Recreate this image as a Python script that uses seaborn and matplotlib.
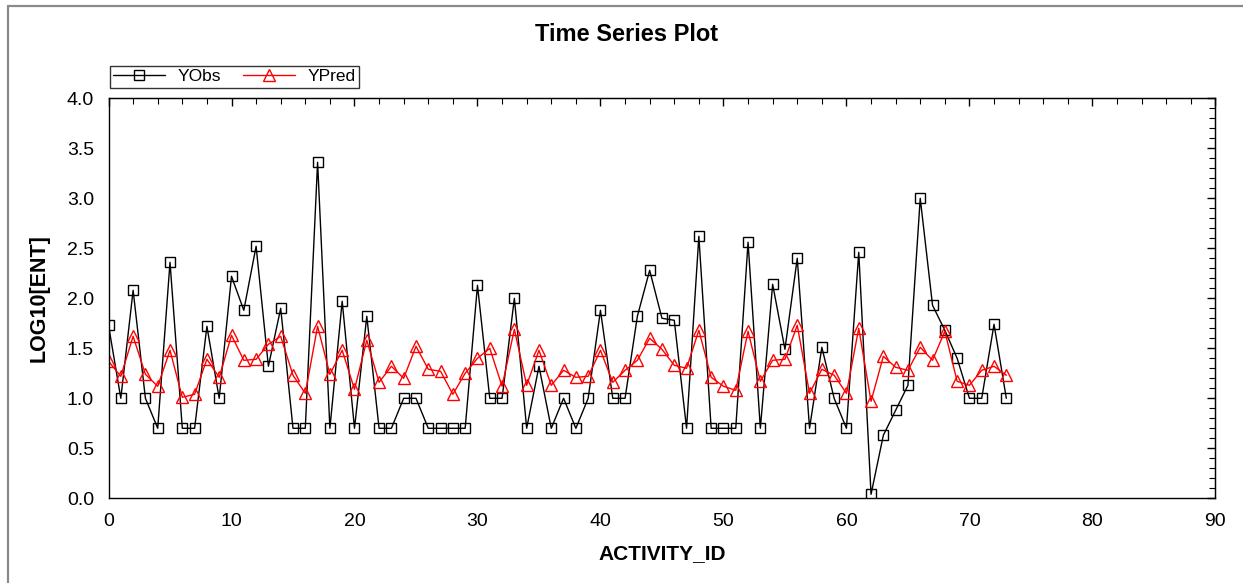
import matplotlib
matplotlib.use("Agg")
import matplotlib.pyplot as plt
from matplotlib.lines import Line2D
from matplotlib.ticker import MultipleLocator, FormatStrFormatter, NullFormatter
import seaborn as sns
import pandas as pd

# ============ Data ============
activity_id = list(range(74))

y_obs = [1.73, 1.00, 2.08, 1.00, 0.70, 2.36, 0.70, 0.70, 1.72, 1.00,
         2.22, 1.88, 2.52, 1.32, 1.90, 0.70, 0.70, 3.36, 0.70, 1.97,
         0.70, 1.82, 0.70, 0.70, 1.00, 1.00, 0.70, 0.70, 0.70, 0.70,
         2.13, 1.00, 1.00, 2.00, 0.70, 1.32, 0.70, 1.00, 0.70, 1.00,
         1.88, 1.00, 1.00, 1.82, 2.28, 1.80, 1.78, 0.70, 2.62, 0.70,
         0.70, 0.70, 2.56, 0.70, 2.14, 1.49, 2.40, 0.70, 1.51, 1.00,
         0.70, 2.46, 0.04, 0.63, 0.88, 1.13, 3.00, 1.93, 1.68, 1.40,
         1.00, 1.00, 1.74, 1.00]

y_pred = [1.37, 1.22, 1.62, 1.24, 1.12, 1.48, 1.01, 1.04, 1.39, 1.21,
          1.63, 1.38, 1.39, 1.54, 1.62, 1.23, 1.05, 1.72, 1.24, 1.48,
          1.09, 1.58, 1.16, 1.32, 1.20, 1.52, 1.29, 1.27, 1.04, 1.25,
          1.40, 1.50, 1.12, 1.69, 1.13, 1.48, 1.13, 1.28, 1.21, 1.22,
          1.48, 1.16, 1.28, 1.38, 1.60, 1.49, 1.33, 1.30, 1.68, 1.21,
          1.12, 1.08, 1.67, 1.17, 1.38, 1.39, 1.73, 1.05, 1.29, 1.23,
          1.05, 1.70, 0.97, 1.42, 1.31, 1.28, 1.51, 1.38, 1.67, 1.17,
          1.13, 1.28, 1.32, 1.23]

df = pd.DataFrame({"ACTIVITY_ID": activity_id, "YObs": y_obs, "YPred": y_pred})

# ============ Style ============
sns.set_style("white")
plt.rcParams["font.family"] = ["Liberation Sans", "DejaVu Sans"]
plt.rcParams["text.color"] = "black"
plt.rcParams["axes.labelcolor"] = "black"
plt.rcParams["xtick.color"] = "black"
plt.rcParams["ytick.color"] = "black"

fig = plt.figure(figsize=(12.43, 5.83), dpi=100)
ax = fig.add_axes([0.0873, 0.1453, 0.8905, 0.6861])

sns.lineplot(data=df, x="ACTIVITY_ID", y="YObs", ax=ax, color="black",
             marker="s", markersize=7.5, markerfacecolor="none",
             markeredgecolor="black", markeredgewidth=1.0, linewidth=1.0,
             label="YObs")
sns.lineplot(data=df, x="ACTIVITY_ID", y="YPred", ax=ax, color="red",
             marker="^", markersize=8, markerfacecolor="none",
             markeredgecolor="red", markeredgewidth=1.0, linewidth=1.0,
             label="YPred")

ax.set_xlim(0, 90)
ax.set_ylim(0, 4.0)
ax.xaxis.set_major_locator(MultipleLocator(10))
ax.xaxis.set_minor_locator(MultipleLocator(2))
ax.yaxis.set_major_locator(MultipleLocator(0.5))
ax.yaxis.set_minor_locator(MultipleLocator(0.1))
ax.yaxis.set_major_formatter(FormatStrFormatter("%.1f"))

for s in ax.spines.values():
    s.set_color("black")
    s.set_linewidth(1.0)

ax.tick_params(which="major", direction="inout", length=9, width=1.0,
               labelsize=14, pad=6, color="black")
ax.tick_params(which="minor", direction="inout", length=5, width=0.8,
               color="black")

# inward ticks on top and right sides
top = ax.secondary_xaxis("top")
top.xaxis.set_major_locator(MultipleLocator(10))
top.xaxis.set_minor_locator(MultipleLocator(2))
top.xaxis.set_major_formatter(NullFormatter())
top.tick_params(which="major", direction="in", length=6, width=1.0)
top.tick_params(which="minor", direction="in", length=4, width=0.8)
right = ax.secondary_yaxis("right")
right.yaxis.set_major_locator(MultipleLocator(0.5))
right.yaxis.set_minor_locator(MultipleLocator(0.1))
right.yaxis.set_major_formatter(NullFormatter())
right.tick_params(which="major", direction="in", length=6, width=1.0)
right.tick_params(which="minor", direction="in", length=4, width=0.8)

ax.set_xlabel("ACTIVITY_ID", fontsize=15, fontweight="bold", labelpad=10)
ax.set_ylabel("LOG10[ENT]", fontsize=15.5, fontweight="bold", labelpad=12)

fig.text(0.504, 0.94, "Time Series Plot", ha="center", va="center",
         fontsize=17, fontweight="bold")

leg = ax.legend(loc="lower left", bbox_to_anchor=(0.001, 1.026), ncol=2,
                frameon=True, fancybox=False, fontsize=12.5, borderaxespad=0,
                handlelength=3.0, columnspacing=1.3, handletextpad=0.7,
                borderpad=0.2)
leg.get_frame().set_edgecolor("black")
leg.get_frame().set_linewidth(1.0)

# outer window border (left and top)
fig.add_artist(Line2D([8 / 1243, 8 / 1243], [0, 1 - 6 / 583], color="#8a8a8a",
                      linewidth=1.6, transform=fig.transFigure))
fig.add_artist(Line2D([8 / 1243, 1], [1 - 6 / 583, 1 - 6 / 583], color="#8a8a8a",
                      linewidth=1.6, transform=fig.transFigure))

fig.savefig("out.png", dpi=100)
